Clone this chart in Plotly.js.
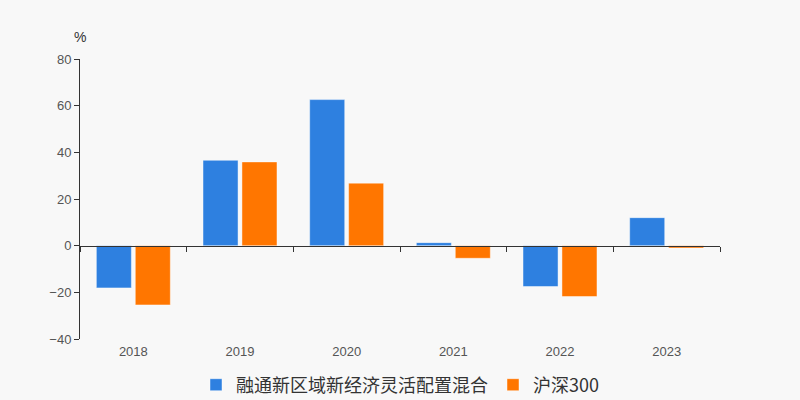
<!DOCTYPE html>
<html>
<head>
<meta charset="utf-8">
<script src="https://cdn.plot.ly/plotly-3.0.1.min.js"></script>
<style>html,body{margin:0;padding:0;background:#f8f8f8;}#chart{width:800px;height:400px;}</style>
</head>
<body>
<div id="chart"></div>
<script>
const years = ['2018', '2019', '2020', '2021', '2022', '2023'];
const fundName = '融通新区域新经济灵活配置混合';
const fundValues = [-18.1, 36.6, 62.6, 1.3, -17.5, 12.0];
const indexName = '沪深300';
const indexValues = [-25.4, 35.9, 26.8, -5.4, -21.8, -1.0];
const yTicks = [-40, -20, 0, 20, 40, 60, 80];

const fam = '"Liberation Sans", Arial, "Noto Sans CJK SC", sans-serif';
const legFam = '"Noto Sans CJK SC", "Liberation Sans", sans-serif';
const traces = [
  {type: 'bar', name: fundName, x: years, y: fundValues,
   marker: {color: '#2e80e0', line: {color: 'rgba(255,255,255,0.45)', width: 1}},
   hoverinfo: 'x+y'},
  {type: 'bar', name: indexName, x: years, y: indexValues,
   marker: {color: '#ff7600', line: {color: 'rgba(255,255,255,0.45)', width: 1}},
   hoverinfo: 'x+y'}
];
const layout = {
  width: 800, height: 400,
  paper_bgcolor: '#f8f8f8', plot_bgcolor: '#f8f8f8',
  margin: {l: 80, r: 80, t: 59, b: 61, autoexpand: false},
  font: {family: fam, color: '#666'},
  barmode: 'group', bargap: 0.27, bargroupgap: 0.1,
  showlegend: true,
  legend: {orientation: 'h', x: 0.5, xanchor: 'center', yref: 'container', y: 0.0375, yanchor: 'middle',
           font: {size: 18, color: '#333', family: legFam}, itemwidth: 30},
  xaxis: {type: 'category', anchor: 'free', position: 1/3, automargin: false,
          showline: true, linecolor: '#333', linewidth: 1,
          ticks: 'outside', ticklen: 5, tickcolor: '#333', tickson: 'boundaries',
          ticklabelstandoff: 94,
          tickfont: {size: 13, color: '#555'}, showgrid: false, zeroline: false, fixedrange: true},
  yaxis: {range: [-40, 80], tickvals: yTicks, ticks: 'outside', ticklen: 5, tickcolor: '#333', automargin: false,
          showline: true, linecolor: '#333', linewidth: 1, showgrid: false, zeroline: false,
          tickfont: {size: 13, color: '#555'}, fixedrange: true},
  annotations: [{text: '%', xref: 'paper', yref: 'paper', x: 0, y: 1.079, xanchor: 'center', yanchor: 'middle',
                 showarrow: false, font: {size: 14, color: '#333', family: fam}}]
};
Plotly.newPlot('chart', traces, layout, {displayModeBar: false, staticPlot: true});
</script>
</body>
</html>
